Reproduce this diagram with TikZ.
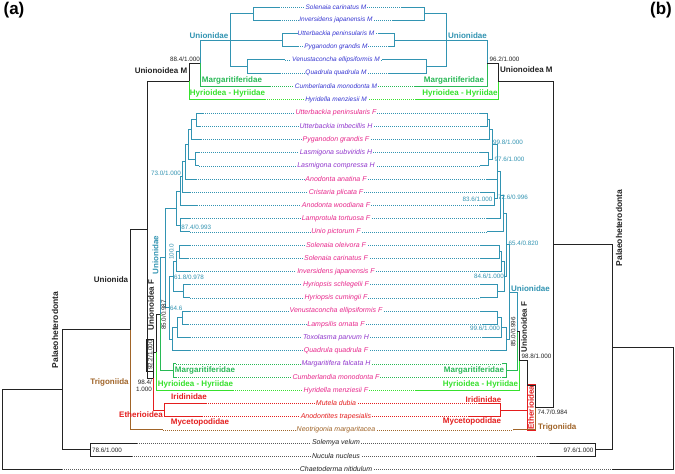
\documentclass[tikz,border=0pt]{standalone}
\usepackage{fontspec}
\setmainfont{Liberation Sans}
\definecolor{tl}{RGB}{50,148,178}
\definecolor{gm}{RGB}{40,185,85}
\definecolor{gh}{RGB}{55,225,45}
\definecolor{rd}{RGB}{228,30,30}
\definecolor{bn}{RGB}{160,100,40}
\definecolor{mb}{RGB}{55,55,210}
\definecolor{fp}{RGB}{232,40,140}
\definecolor{hp}{RGB}{145,55,205}
\definecolor{bk}{RGB}{35,35,35}
\definecolor{gy}{RGB}{90,90,90}
\begin{document}
\begin{tikzpicture}[x=1pt,y=-1pt,
  brl/.style={line width=1.0pt},
  dt/.style={line width=0.6pt, dash pattern=on 0.8pt off 1.2pt},
  tx/.style={font=\fontsize{7}{8}\selectfont\itshape, inner sep=0.8pt, fill=white},
  txm/.style={font=\fontsize{6.5}{7.5}\selectfont\itshape, inner sep=0.8pt, fill=white},
  cl/.style={font=\fontsize{8}{9}\selectfont\bfseries, inner sep=0pt},
  sv/.style={font=\fontsize{6.3}{7}\selectfont, inner sep=0.3pt},
  pl/.style={font=\fontsize{17}{19}\selectfont\bfseries, inner sep=0pt}]
\useasboundingbox (0,0) rectangle (675,474);
\fill[white] (0,0) rectangle (675,474);

% ---------- rows of the M tree ----------
\foreach \n/\y/\lx/\rx/\dc/\txt in {
0/7.0/279/402/tl/Solenaia carinatus M,
1/20.2/280/393/tl/Inversidens japanensis M,
2/33.4/298/378/tl/Utterbackia peninsularis M,
3/46.6/298/388/tl/Pyganodon grandis M,
4/59.8/285/382/tl/Venustaconcha ellipsiformis M,
5/73.0/280/388/tl/Quadrula quadrula M,
6/86.2/270/415/gm/Cumberlandia monodonta M,
7/99.4/265/415/gh/Hyridella menziesii M}
{
  \coordinate (ML\n) at (\lx,\y);
  \coordinate (MR\n) at (\rx,\y);
  \draw[dt,draw=\dc] (ML\n) -- (MR\n);
  \node[txm,text=mb] (MT\n) at (336,\y) {\txt};
}

% ---------- rows of the F tree ----------
\foreach \n/\y/\lx/\rx/\tc/\dc/\txt in {
0/113.0/203/480/fp/tl/Utterbackia peninsularis F,
1/126.2/200/480/hp/tl/Utterbackia imbecillis H,
2/139.4/201/480/fp/tl/Pyganodon grandis F,
3/152.6/199/480/hp/tl/Lasmigona subviridis H,
4/165.8/199/480/hp/tl/Lasmigona compressa H,
5/179.0/196/487/fp/tl/Anodonta anatina F,
6/192.2/190/480/fp/tl/Cristaria plicata F,
7/205.4/197/480/fp/tl/Anodonta woodiana F,
8/218.6/190/487/fp/tl/Lamprotula tortuosa F,
9/231.8/190/487/fp/tl/Unio pictorum F,
10/245.0/190/480/fp/tl/Solenaia oleivora F,
11/258.2/188/480/fp/tl/Solenaia carinatus F,
12/271.4/190/480/fp/tl/Inversidens japanensis F,
13/284.6/190/480/fp/tl/Hyriopsis schlegelii F,
14/297.8/190/480/fp/tl/Hyriopsis cumingii F,
15/311.0/190/480/fp/tl/Venustaconcha ellipsiformis F,
16/324.2/188/482/fp/tl/Lampsilis ornata F,
17/337.4/190/482/hp/tl/Toxolasma parvum H,
18/350.6/190/490/fp/tl/Quadrula quadrula F,
19/363.8/176/502/hp/gm/Margaritifera falcata H,
20/377.0/176/502/fp/gm/Cumberlandia monodonta F,
21/390.2/233/415/fp/gh/Hyridella menziesii F,
22/403.4/206/478/rd/rd/Mutela dubia,
23/416.6/202/468/rd/rd/Anodontites trapesialis,
24/429.8/163/513/bn/bn/Neotrigonia margaritacea,
25/443.0/137/550/bk/gy/Solemya velum,
26/456.2/132/537/bk/gy/Nucula nucleus,
27/469.4/62/612/bk/gy/Chaetoderma nitidulum}
{
  \coordinate (L\n) at (\lx,\y);
  \coordinate (R\n) at (\rx,\y);
  \draw[dt,draw=\dc] (L\n) -- (R\n);
  \node[tx,text=\tc] (T\n) at (336,\y) {\txt};
}

% ---------- internal nodes, M tree ----------
\coordinate (a) at (253,13.6);
\coordinate (b) at (282,40);
\coordinate (c) at (247,66.4);
\coordinate (d) at (230,40);
\coordinate (e) at (200,63.1);
\coordinate (f) at (189,81.25);
\coordinate (aR) at (424,13.6);
\coordinate (bR) at (394,40);
\coordinate (cR) at (426,66.4);
\coordinate (dR) at (446,40);
\coordinate (eR) at (487,63.1);
\coordinate (fR) at (498,81.25);

% ---------- internal nodes, left F tree ----------
\coordinate (nA) at (196,119.6);
\coordinate (nB) at (191,129.5);
\coordinate (nC) at (195,159.2);
\coordinate (nD) at (188,144.35);
\coordinate (nE) at (185,161.7);
\coordinate (nF) at (182,176.95);
\coordinate (nG) at (180,191.2);
\coordinate (nH) at (180,225.2);
\coordinate (nI) at (176,208.2);
\coordinate (nJ) at (179,251.6);
\coordinate (nK) at (176,261.5);
\coordinate (nL) at (183,291.2);
\coordinate (nM) at (173,276.35);
\coordinate (nN) at (182,317.6);
\coordinate (nO) at (177,327.5);
\coordinate (nP) at (172,339.05);
\coordinate (nS) at (169,307.7);
\coordinate (nU) at (165,257.95);
\coordinate (nV) at (160,314.2);
\coordinate (nMg) at (173,370.4);
\coordinate (nW) at (156,352.2);
\coordinate (nEth) at (164,410);
\coordinate (nX) at (153,378);
\coordinate (nY) at (147,229.6);
\coordinate (nQ) at (130,329.7);
\coordinate (nSN) at (90,449.6);
\coordinate (nPa) at (62,389.65);
\coordinate (nRt) at (2,429.5);

% ---------- internal nodes, right F tree ----------
\coordinate (rA) at (487,119.6);
\coordinate (rB) at (489,129.5);
\coordinate (rC) at (488,159.2);
\coordinate (rD) at (492,144.35);
\coordinate (rF) at (494,198.8);
\coordinate (rE) at (497,171.6);
\coordinate (rH1) at (500,195.1);
\coordinate (rH2) at (503,213.45);
\coordinate (rJ) at (499,251.6);
\coordinate (rK) at (501.5,261.5);
\coordinate (rL) at (497,291.2);
\coordinate (rM) at (504,276.35);
\coordinate (rQ) at (506,244.9);
\coordinate (rN) at (497,317.6);
\coordinate (rO) at (501,327.5);
\coordinate (rU1) at (506,339.05);
\coordinate (rU) at (509,292);
\coordinate (rMg) at (506,370.4);
\coordinate (rV) at (517,331.2);
\coordinate (rW) at (519,360.7);
\coordinate (rEth) at (500,410);
\coordinate (rX) at (527,385.35);
\coordinate (rZ) at (535,407.6);
\coordinate (rY) at (553,244.4);
\coordinate (rSN) at (595,449.6);
\coordinate (rPa) at (612,347);
\coordinate (rRt) at (673,408.2);

% Etherioidea box (right)
\node[cl, text=rd, draw=rd, line width=0.6pt, rotate=90, inner sep=1.2pt] (ethbox) at (531,407.6) {Etherioidea};
% 92.2 box (left)
\node[sv, text=bk, draw=bk, line width=0.7pt, rotate=90, inner sep=1pt] (box92) at (150,355) {92.2/1.000};

% ---------- branches, M tree ----------
\draw[brl,tl] (a) |- (ML0) (a) |- (ML1) (b) |- (ML2) (b) |- (ML3)
  (c) |- (ML4) (c) |- (ML5) (d) |- (a) (d) |- (c) (d) -- (b) (e) |- (d);
\draw[brl,gm] (e) |- (ML6);
\draw[brl,bk] (f) |- (e);
\draw[brl,gh] (f) |- (ML7);
\draw[brl,tl] (aR) |- (MR0) (aR) |- (MR1) (bR) |- (MR2) (bR) |- (MR3)
  (cR) |- (MR4) (cR) |- (MR5) (dR) |- (aR) (dR) |- (cR) (dR) -- (bR) (eR) |- (dR);
\draw[brl,gm] (eR) |- (MR6);
\draw[brl,bk] (fR) |- (eR);
\draw[brl,gh] (fR) |- (MR7);

% ---------- branches, left F tree ----------
\draw[brl,tl] (nA) |- (L0) (nA) |- (L1) (nB) |- (nA) (nB) |- (L2)
  (nC) |- (L3) (nC) |- (L4) (nD) |- (nB) (nD) |- (nC)
  (nE) |- (nD) (nE) |- (L5) (nF) |- (nE) (nF) |- (L6)
  (nG) |- (nF) (nG) |- (L7) (nH) |- (L8) (nH) |- (L9)
  (nI) |- (nG) (nI) |- (nH)
  (nJ) |- (L10) (nJ) |- (L11) (nK) |- (nJ) (nK) |- (L12)
  (nL) |- (L13) (nL) |- (L14) (nM) |- (nK) (nM) |- (nL)
  (nN) |- (L15) (nN) |- (L16) (nO) |- (nN) (nO) |- (L17)
  (nP) |- (nO) (nP) |- (L18) (nS) |- (nM) (nS) |- (nP)
  (nU) |- (nI) (nU) |- (nS) (nV) |- (nU);
\draw[brl,gm] (nV) |- (nMg) (nMg) |- (L19) (nMg) |- (L20);
\draw[brl,gh] (nW) |- (L21);
\draw[brl,rd] (nX) |- (nEth) (nEth) |- (L22) (nEth) |- (L23);
\draw[brl,bk] (nW) |- (nV) (nX) |- (nW) (nY) |- (nX) (nY) |- (f)
  (nQ) |- (nY) (nPa) |- (nQ) (nPa) |- (nSN) (nSN) |- (L25) (nSN) |- (L26)
  (nRt) |- (nPa) (nRt) |- (L27);
\draw[brl,bn] (nQ) |- (L24);

% ---------- branches, right F tree ----------
\draw[brl,tl] (rA) |- (R0) (rA) |- (R1) (rB) |- (rA) (rB) |- (R2)
  (rC) |- (R3) (rC) |- (R4) (rD) |- (rB) (rD) |- (rC)
  (rF) |- (R6) (rF) |- (R7) (rE) |- (rD) (rE) |- (R5) (rE) |- (rF)
  (rH1) |- (rE) (rH1) |- (R8) (rH2) |- (rH1) (rH2) |- (R9)
  (rJ) |- (R10) (rJ) |- (R11) (rK) |- (rJ) (rK) |- (R12)
  (rL) |- (R13) (rL) |- (R14) (rM) |- (rK) (rM) |- (rL)
  (rQ) |- (rH2) (rQ) |- (rM)
  (rN) |- (R15) (rN) |- (R16) (rO) |- (rN) (rO) |- (R17)
  (rU1) |- (rO) (rU1) |- (R18) (rU) |- (rQ) (rU) |- (rU1) (rV) |- (rU);
\draw[brl,gm] (rV) |- (rMg) (rMg) |- (R19) (rMg) |- (R20);
\draw[brl,gh] (rW) |- (R21);
\draw[brl,rd] (rX) |- (rEth) (rEth) |- (R22) (rEth) |- (R23);
\draw[brl,bk] (rW) |- (rV) (rX) |- (rW) (rZ) |- (rX) (rY) |- (rZ) (rY) |- (fR)
  (rPa) |- (rY) (rPa) |- (rSN) (rSN) |- (R25) (rSN) |- (R26)
  (rRt) |- (rPa) (rRt) |- (R27);
\draw[brl,bn] (rZ) |- (R24);

% ---------- clade labels ----------
\node[cl,text=tl] (uL) at (209,35.5) {Unionidae};
\node[cl,text=tl] (uR) at (467.5,35.5) {Unionidae};
\node[cl,text=gm] (mgL) at (232,80.5) {Margaritiferidae};
\node[cl,text=gm] (mgR) at (454,80.5) {Margaritiferidae};
\node[cl,text=gh] (hyL) at (227.5,93.5) {Hyrioidea - Hyriidae};
\node[cl,text=gh] (hyR) at (460,93.5) {Hyrioidea - Hyriidae};
\node[cl,text=bk] (umL) at (161,71) {Unionoidea M};
\node[cl,text=bk,anchor=west] (umR) at (500,70) {Unionoidea M};

\node[cl,text=tl,rotate=90] (ufL) at (155.5,255) {Unionidae};
\node[cl,text=bk,rotate=90] (uofL) at (151,305) {Unionoidea F};
\node[cl,text=gm] (mgFL) at (205,370) {Margaritiferidae};
\node[cl,text=gh] (hyFL) at (195.5,384) {Hyrioidea - Hyriidae};
\node[cl,text=rd] (irL) at (189,397) {Iridinidae};
\node[cl,text=rd] (myL) at (200,422) {Mycetopodidae};
\node[cl,text=rd] (etL) at (141,414.5) {Etherioidea};
\node[cl,text=bn] (trL) at (109.5,382) {Trigoniida};
\node[cl,text=bk] (unL) at (111,280) {Unionida};
\node[cl,text=bk,rotate=90,font=\fontsize{8.5}{9}\selectfont\bfseries] (paL) at (55,330) {Palaeoheterodonta};

\node[cl,text=tl,anchor=west] (ufR) at (511,289) {Unionidae};
\node[cl,text=bk,rotate=90] (uofR) at (524,327) {Unionoidea F};
\node[cl,text=gm] (mgFR) at (474,370) {Margaritiferidae};
\node[cl,text=gh] (hyFR) at (480.5,384) {Hyrioidea - Hyriidae};
\node[cl,text=rd] (irR) at (483.5,399.5) {Iridinidae};
\node[cl,text=rd] (myR) at (472,421.5) {Mycetopodidae};
\node[cl,text=bn,anchor=west] (trR) at (538,427) {Trigoniida};
\node[cl,text=bk,rotate=90,font=\fontsize{8.5}{9}\selectfont\bfseries] (paR) at (619,228) {Palaeoheterodonta};

% ---------- support values ----------
\node[sv,text=bk] (s1) at (185,59.5) {88.4/1.000};
\node[sv,text=bk,anchor=west] (s2) at (489,59.5) {96.2/1.000};
\node[sv,text=tl,anchor=east] (s3) at (181.5,173.5) {73.0/1.000};
\node[sv,text=tl,anchor=west] (s4) at (180.8,227.5) {87.4/0.993};
\node[sv,text=tl,rotate=90] (s5) at (171.5,252) {100.0};
\node[sv,text=tl,anchor=west] (s6) at (173.5,277.5) {61.8/0.978};
\node[sv,text=tl,anchor=west] (s7) at (169.5,308.5) {64.6};
\node[sv,text=bk,rotate=90] (s8) at (163.5,315) {85.0/0.987};
\node[sv,text=bk,anchor=north east,align=right] (s9) at (152.5,379.5) {98.4/\\1.000};
\node[sv,text=bk,anchor=west] (s10) at (91.5,450.5) {78.6/1.000};

\node[sv,text=tl,anchor=west] (t1) at (492.5,142) {99.8/1.000};
\node[sv,text=tl,anchor=west] (t2) at (494,159.5) {97.6/1.000};
\node[sv,text=tl,anchor=east] (t3) at (493,199) {83.6/1.000};
\node[sv,text=tl,anchor=west] (t4) at (497.5,197) {72.6/0.996};
\node[sv,text=tl,anchor=west] (t5) at (508,243) {65.4/0.820};
\node[sv,text=tl,anchor=east] (t6) at (504.5,276.5) {84.6/1.000};
\node[sv,text=tl,anchor=east] (t7) at (500.5,328.5) {99.6/1.000};
\node[sv,text=bk,rotate=90] (t8) at (513,332) {85.0/0.996};
\node[sv,text=bk,anchor=west] (t9) at (521,356) {98.8/1.000};
\node[sv,text=bk,anchor=west] (t10) at (537,412.5) {74.7/0.984};
\node[sv,text=bk,anchor=east] (t11) at (594,450) {97.6/1.000};

% ---------- panel labels ----------
\node[pl] (pa) at (14,10) {(a)};
\node[pl] (pb) at (661,10) {(b)};
\end{tikzpicture}
\end{document}
